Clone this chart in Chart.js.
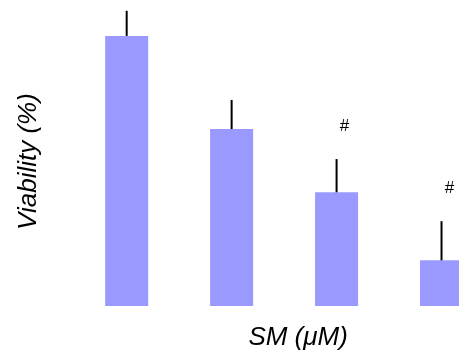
<!DOCTYPE html>
<html>
<head>
<meta charset="utf-8">
<script src="https://cdn.jsdelivr.net/npm/chart.js@4/dist/chart.umd.min.js"></script>
<style>
  html, body { margin: 0; padding: 0; overflow: hidden; background: #fff; }
  #wrap { width: 500px; height: 353px; }
</style>
</head>
<body>
<div id="wrap"><canvas id="myChart" width="500" height="353"></canvas></div>
<script>
// valores (viabilidad %)
const categorias = ['0', '1', '2', '3'];
const viabilidad = [100, 65.5, 42.1, 16.9];
const errores = [9.3, 10.8, 12.3, 14.5];
const marcas = ['', '', '#', '#'];

const yTitulo = 'Viability (%)';
const xTitulo = 'SM (\u03bcM)';

const fuente = '"Liberation Sans", Arial, sans-serif';

// barras de error (solo hacia arriba) y los simbolos #
const extras = {
  id: 'extras',
  afterDatasetsDraw(chart) {
    const ctx = chart.ctx;
    const meta = chart.getDatasetMeta(0);
    const y = chart.scales.y;
    ctx.save();
    ctx.strokeStyle = '#000';
    ctx.lineWidth = 2;
    ctx.fillStyle = '#000';
    ctx.font = '17px ' + fuente;
    ctx.textAlign = 'center';
    ctx.textBaseline = 'middle';
    meta.data.forEach((bar, i) => {
      const top = y.getPixelForValue(viabilidad[i] + errores[i]);
      ctx.beginPath();
      ctx.moveTo(bar.x, bar.y);
      ctx.lineTo(bar.x, top);
      ctx.stroke();
      if (marcas[i]) {
        ctx.fillText(marcas[i], bar.x + 8, top - 33);
      }
    });
    ctx.restore();
  },
  afterDraw(chart) {
    const ctx = chart.ctx;
    const area = chart.chartArea;
    ctx.save();
    ctx.fillStyle = '#000';
    ctx.font = 'italic 26px ' + fuente;
    ctx.textAlign = 'center';
    ctx.textBaseline = 'alphabetic';
    ctx.fillText(xTitulo, (area.left + area.right) / 2 + 14, 345);
    ctx.restore();
  }
};

const ctx = document.getElementById('myChart');

new Chart(ctx, {
  type: 'bar',
  data: {
    labels: categorias,
    datasets: [{
      data: viabilidad,
      backgroundColor: '#9999ff',
      borderWidth: 0,
      categoryPercentage: 1,
      barPercentage: 0.41
    }]
  },
  options: {
    responsive: false,
    animation: false,
    layout: {
      padding: { left: 13, right: 6, top: 17, bottom: 47 }
    },
    scales: {
      x: {
        display: false
      },
      y: {
        min: 0,
        max: 107,
        ticks: { display: false },
        grid: { display: false },
        border: { display: false },
        title: {
          display: true,
          text: yTitulo,
          color: '#000',
          font: { family: fuente, size: 26, style: 'italic' },
          padding: { top: 0, bottom: 22 }
        }
      }
    },
    plugins: {
      legend: { display: false },
      tooltip: { enabled: false }
    }
  },
  plugins: [extras]
});
</script>
</body>
</html>
